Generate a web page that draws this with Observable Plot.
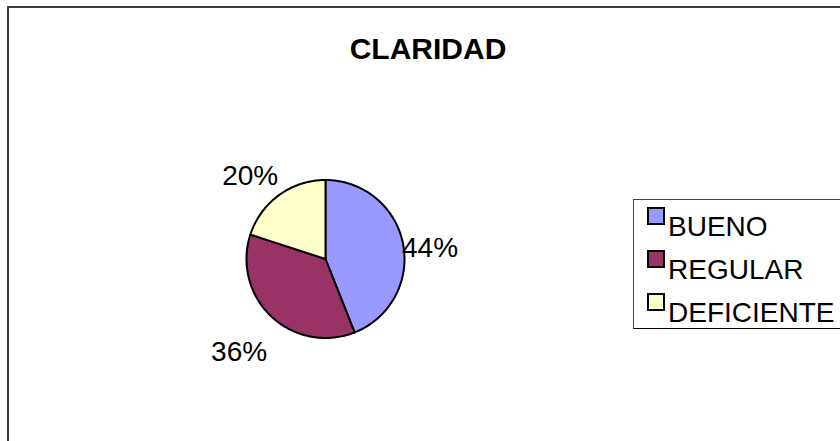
<!DOCTYPE html>
<html>
<head>
<meta charset="utf-8">
<script src="https://cdn.jsdelivr.net/npm/d3@7"></script>
<script src="https://cdn.jsdelivr.net/npm/@observablehq/plot@0.6"></script>
<style>
  html, body { margin: 0; padding: 0; background: #fff; }
  #wrap { position: relative; width: 840px; height: 441px; overflow: hidden; font-family: "Liberation Sans", Arial, sans-serif; }
  #frame { position: absolute; left: 7px; top: 6px; width: 900px; height: 500px; border: 2px solid #3c3c3c; box-sizing: border-box; }
  #chart { position: absolute; left: 0; top: 0; }
  #title { position: absolute; left: 228px; width: 400px; top: 34px; text-align: center; font-weight: bold; font-size: 30px; line-height: 1; color: #000; }
  #legend { position: absolute; left: 633px; top: 199px; width: 260px; height: 130px; border: 1px solid #444; border-bottom-color: #000; box-sizing: border-box; background: #fff; }
  .item { position: absolute; left: 13px; height: 40px; }
  .sw { position: absolute; left: 0; top: 0; width: 18px; height: 18px; border: 2px solid #000; box-sizing: border-box; }
  .lt { position: absolute; left: 21px; top: 6px; font-size: 28px; line-height: 1; white-space: nowrap; color: #000; }
</style>
</head>
<body>
<div id="wrap">
  <div id="frame"></div>
  <div id="chart"></div>
  <div id="title"></div>
  <div id="legend"></div>
</div>
<script>
// ---- data ----
const title = "CLARIDAD";
const categories = ["BUENO", "REGULAR", "DEFICIENTE"];
const values = [44, 36, 20];
const percentLabels = ["44%", "36%", "20%"];
const colors = ["#9999FF", "#993366", "#FFFFCC"];

// ---- slices (clockwise from 12 o'clock) ----
const total = d3.sum(values);
let acc = 0;
const slices = categories.map((c, i) => {
  const a0 = acc / total * 2 * Math.PI;
  acc += values[i];
  const a1 = acc / total * 2 * Math.PI;
  return {category: c, value: values[i], label: percentLabels[i], a0, a1, mid: (a0 + a1) / 2};
});
const points = [];
for (const s of slices) {
  points.push({category: s.category, x: 0, y: 0});
  const n = Math.max(2, Math.ceil((s.a1 - s.a0) / (Math.PI / 180)));
  for (let k = 0; k <= n; k++) {
    const a = s.a0 + (s.a1 - s.a0) * k / n;
    points.push({category: s.category, x: Math.sin(a), y: Math.cos(a)});
  }
}
const labelR = 1.45;

const plot = Plot.plot({
  width: 840,
  height: 441,
  marginLeft: 246,
  marginRight: 436,
  marginTop: 179.5,
  marginBottom: 103.5,
  x: {domain: [-1, 1], axis: null},
  y: {domain: [-1, 1], axis: null},
  color: {domain: categories, range: colors},
  style: {background: "transparent", overflow: "visible"},
  marks: [
    Plot.line(points, {x: "x", y: "y", z: "category", fill: "category", stroke: "#000", strokeWidth: 2, strokeLinejoin: "round", curve: "linear-closed"}),
    Plot.text(slices, {
      x: d => labelR * Math.sin(d.mid),
      y: d => labelR * Math.cos(d.mid),
      text: "label",
      dx: -8,
      dy: 10,
      fontSize: 28,
      fontFamily: "Liberation Sans, Arial, sans-serif",
      fill: "#000"
    })
  ]
});
document.getElementById("chart").appendChild(plot);
document.getElementById("title").textContent = title;

const legend = document.getElementById("legend");
categories.forEach((c, i) => {
  const item = document.createElement("div");
  item.className = "item";
  item.style.top = (7 + i * 43) + "px";
  const sw = document.createElement("div");
  sw.className = "sw";
  sw.style.background = colors[i];
  const lt = document.createElement("div");
  lt.className = "lt";
  lt.textContent = c;
  item.appendChild(sw);
  item.appendChild(lt);
  legend.appendChild(item);
});
</script>
</body>
</html>
